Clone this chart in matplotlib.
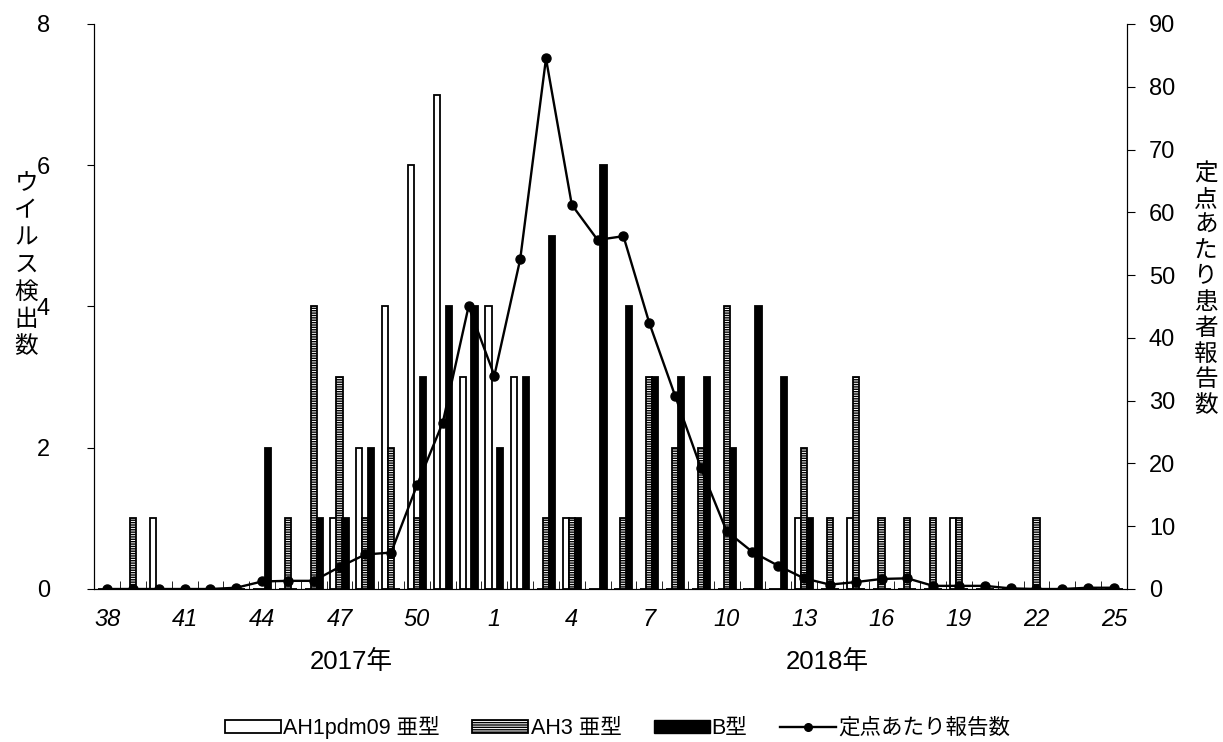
import matplotlib
matplotlib.use("Agg")
import matplotlib.pyplot as plt
from matplotlib.patches import Patch
from matplotlib.lines import Line2D
import numpy as np

plt.rcParams['font.family'] = ['Liberation Sans', 'Noto Sans CJK JP']
plt.rcParams['hatch.linewidth'] = 1.0

# weeks: 2017 wk38 - 2018 wk25
weeks = list(range(38, 53)) + list(range(1, 26))

ah1 = [0, 0, 1, 0, 0, 0, 0, 0, 0, 1, 2, 4, 6, 7, 3,
       4, 3, 0, 1, 0, 0, 0, 0, 0, 0, 0, 0, 1, 0, 1,
       0, 0, 0, 1, 0, 0, 0, 0, 0, 0]
ah3 = [0, 1, 0, 0, 0, 0, 0, 1, 4, 3, 1, 2, 1, 0, 0,
       0, 0, 1, 1, 0, 1, 3, 2, 2, 4, 0, 0, 2, 1, 3,
       1, 1, 1, 1, 0, 0, 1, 0, 0, 0]
b = [0, 0, 0, 0, 0, 0, 2, 0, 1, 1, 2, 0, 3, 4, 4,
     2, 3, 5, 1, 6, 4, 3, 3, 3, 2, 4, 3, 1, 0, 0,
     0, 0, 0, 0, 0, 0, 0, 0, 0, 0]
teiten = [0, 0, 0, 0, 0, 0.2, 1.2, 1.3, 1.3, 3.5, 5.5, 5.8, 16.5, 26.5, 45,
          34, 52.5, 84.5, 61.2, 55.6, 56.2, 42.4, 30.8, 19.3, 9.2, 5.9, 3.7, 1.7, 0.7, 1.1,
          1.6, 1.7, 0.5, 0.5, 0.5, 0.1, 0, 0, 0.2, 0.2]

x = np.arange(len(weeks))
w = 0.24

fig = plt.figure(figsize=(12.23, 7.42), dpi=100)
ax = fig.add_axes([0.0771, 0.2062, 0.8442, 0.7615])

ax.bar(x - 0.23, ah1, w, color='white', edgecolor='black', linewidth=1.3)
ax.bar(x, ah3, w, color='white', edgecolor='black', linewidth=1.3, hatch='-------')
ax.bar(x + 0.23, b, w, color='black', edgecolor='black', linewidth=1.3)

ax.set_xlim(-0.5, len(weeks) - 0.5)
ax.set_ylim(0, 8)
ax.set_yticks([0, 2, 4, 6, 8])
ax.tick_params(axis='y', direction='out', length=5, pad=27, labelsize=17)

ax.set_xticks(x[::3])
ax.set_xticklabels([str(wk) for wk in weeks[::3]], fontstyle='italic')
ax.set_xticks(x[:-1] + 0.5, minor=True)
ax.tick_params(axis='x', which='major', length=0, pad=14, labelsize=17)
ax.tick_params(axis='x', which='minor', direction='in', length=6)
ax.spines['top'].set_visible(False)

ax2 = ax.twinx()
ax2.plot(x, teiten, color='black', linewidth=1.7, marker='o', markersize=6.5)
ax2.set_ylim(0, 90)
ax2.set_yticks(range(0, 91, 10))
ax2.tick_params(axis='y', direction='out', length=6, pad=10, labelsize=17)
ax2.spines['top'].set_visible(False)

fig.text(0.0215, 0.642, '\n'.join('ウイルス検出数'), ha='center', va='center',
         fontsize=17, linespacing=1.3)
fig.text(0.986, 0.609, '\n'.join('定点あたり患者報告数'), ha='center', va='center',
         fontsize=17, linespacing=1.22)

fig.text(351 / 1223, 1 - 662 / 742, '2017年', ha='center', va='center', fontsize=18.5)
fig.text(827 / 1223, 1 - 662 / 742, '2018年', ha='center', va='center', fontsize=18.5)

handles = [
    Patch(facecolor='white', edgecolor='black', linewidth=1.3),
    Patch(facecolor='white', edgecolor='black', linewidth=1.3, hatch='-------'),
    Patch(facecolor='black', edgecolor='black'),
    Line2D([], [], color='black', linewidth=1.7, marker='o', markersize=5.5),
]
labels = ['AH1pdm09 亜型', 'AH3 亜型', 'B型', '定点あたり報告数']
fig.legend(handles, labels, loc='center', bbox_to_anchor=(0.505, 0.02), ncol=4,
           frameon=False, fontsize=15.5, handlelength=2.6, handleheight=0.55,
           handletextpad=0.1, columnspacing=1.5)

fig.savefig('out.png', dpi=100)
